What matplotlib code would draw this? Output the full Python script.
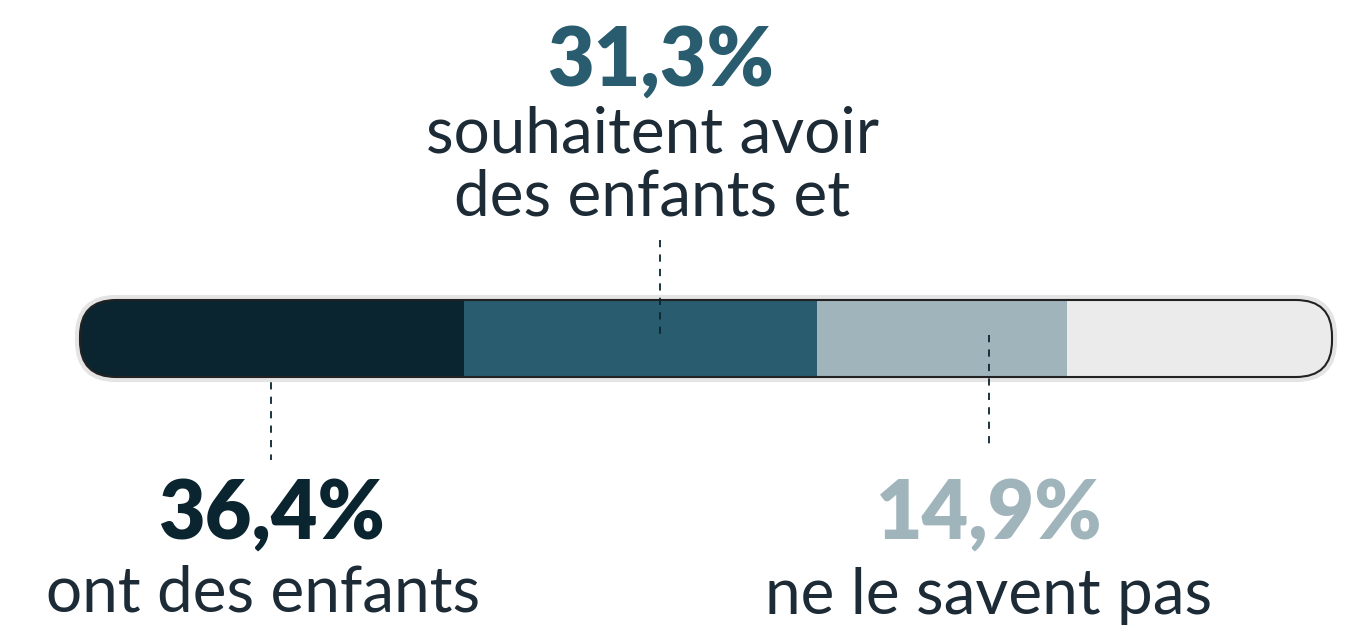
import matplotlib
matplotlib.use("Agg")
import matplotlib.pyplot as plt
from matplotlib.patches import FancyBboxPatch, Rectangle

labels = ["ont des enfants", "souhaitent avoir\ndes enfants et", "ne le savent pas"]
values = ["36,4%", "31,3%", "14,9%"]
bar_shares = [30.7, 28.2, 19.9, 21.2]  # visual segment lengths as drawn
colors = ["#0b2530", "#285c6e", "#a0b4bb", "#ebebeb"]

fig = plt.figure(figsize=(13.71, 6.44), dpi=100)
ax = fig.add_axes([0, 0, 1, 1])
ax.set_xlim(0, 1371); ax.set_ylim(644, 0); ax.axis("off")

x0, x1, y0, y1 = 80, 1332, 300, 377
W = x1 - x0
clip = FancyBboxPatch((x0, y0), W, y1 - y0, boxstyle="round,pad=0,rounding_size=36",
                      fc="none", ec="none", mutation_aspect=1)
ax.add_patch(clip)
pos = x0
for s, c in zip(bar_shares, colors):
    w = W * s / sum(bar_shares)
    r = Rectangle((pos, y0), w, y1 - y0, fc=c, ec="none")
    ax.add_patch(r); r.set_clip_path(clip)
    pos += w
ax.add_patch(FancyBboxPatch((x0, y0), W, y1 - y0, boxstyle="round,pad=0,rounding_size=36",
                            fc="none", ec="#222222", lw=1.5))
ax.add_patch(FancyBboxPatch((x0 - 3, y0 - 3), W + 6, y1 - y0 + 6, boxstyle="round,pad=0,rounding_size=39",
                            fc="none", ec="#e4e4e4", lw=3, zorder=0))

dk = "#0b2530"
for x, ya, yb in [(271, 310, 460), (660, 240, 335), (989, 335, 450)]:
    ax.plot([x, x], [ya, yb], ls=(0, (4, 4)), color=dk, lw=1.3)

numfont = dict(family="Lato", weight="black", fontsize=58)
txtfont = dict(family="Lato", fontsize=46, color="#1c2b36")
ax.text(660, 62, values[1], color="#285c6e", ha="center", va="center", **numfont)
ax.text(652, 166, labels[1], ha="center", va="center", linespacing=1.1, **txtfont)
ax.text(271, 515, values[0], color=dk, ha="center", va="center", **numfont)
ax.text(263, 593, labels[0], ha="center", va="center", **txtfont)
ax.text(989, 515, values[2], color="#a0b4bb", ha="center", va="center", **numfont)
ax.text(989, 596, labels[2], ha="center", va="center", **txtfont)

fig.savefig("out.png", dpi=100)
